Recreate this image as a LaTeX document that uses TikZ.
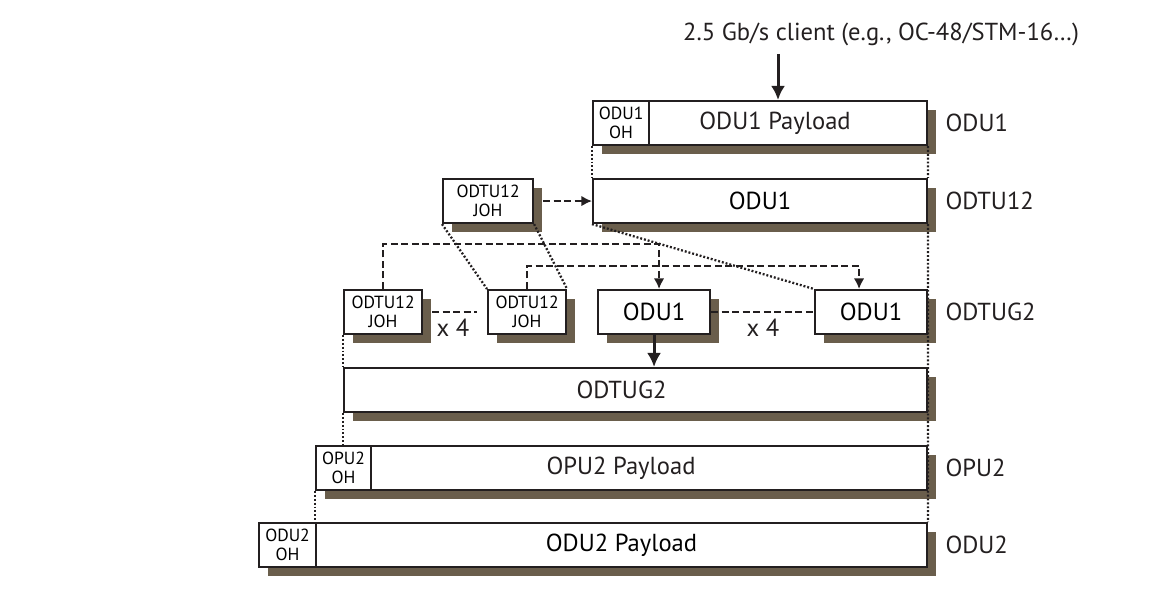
\documentclass[tikz,border=0pt]{standalone}
\usepackage{fontspec}
\setmainfont{PT Sans}
\usepackage{tikz}
\usetikzlibrary{arrows.meta,positioning,shadows}
\definecolor{shadowbrown}{RGB}{106,94,76}
\definecolor{inkblack}{RGB}{35,31,32}

\begin{document}
\begin{tikzpicture}[x=0.02cm,y=-0.02cm,>={Latex[length=6pt,width=6pt]},node distance=0.34cm,semithick]
                \tikzstyle{fieldbox}=[draw=inkblack,line width=1.2pt,fill=white,anchor=north west,inner sep=0pt,minimum height=0.88cm,font=\fontsize{14}{16}\selectfont,drop shadow={shadow xshift=0.18cm,shadow yshift=-0.18cm,fill=shadowbrown,opacity=1}]
                \tikzstyle{ohbox}=[fieldbox,align=center,font=\fontsize{10}{10.5}\selectfont]
                \tikzstyle{tag}=[inner sep=0pt,text=inkblack,font=\fontsize{14}{16}\selectfont]
                \tikzstyle{dotline}=[draw=inkblack,line width=1.3pt,dash pattern=on 1.1pt off 1.1pt]
                \tikzstyle{dashline}=[draw=inkblack,line width=1.5pt,dash pattern=on 4pt off 2pt]

                \useasboundingbox (0,0) rectangle (1152,601);

                % client signal
                \node[tag,anchor=base] (client) at (881,41) {2.5 Gb/s client (e.g., OC-48/STM-16…)};
                \coordinate (feed) at (778,54);

                % ODU1 and ODTU12
                \node[ohbox,minimum width=1.12cm] (odu1oh) at (592,100) {ODU1\\OH};
                \node[fieldbox,minimum width=5.56cm,label={[tag,xshift=-0.26cm]center:ODU1 Payload}] (odu1pl) at (648,100) {};
                \node[fieldbox,minimum width=6.68cm] (odtu12) at (592,178) {ODU1};
                \node[ohbox,minimum width=1.8cm] (johtop) at (442,178) {ODTU12\\JOH};

                % ODTUG2 members
                \node[ohbox,minimum width=1.56cm] (joha) at (343,289) {ODTU12\\JOH};
                \node[ohbox,minimum width=1.56cm] (johb) at (487,289) {ODTU12\\JOH};
                \node[fieldbox,minimum width=2.24cm] (odu1a) at (597,289) {ODU1};
                \node[fieldbox,minimum width=2.24cm] (odu1b) at (814,289) {ODU1};
                \node[tag] (timesa) at (453,328) {x 4};
                \node[tag] (timesb) at (763,328) {x 4};

                % ODTUG2, OPU2 and ODU2
                \node[fieldbox,minimum width=11.66cm,label={[tag,xshift=-0.28cm]center:ODTUG2}] (odtug2) at (343,367) {};
                \node[ohbox,minimum width=1.1cm] (opu2oh) at (315,445) {OPU2\\OH};
                \node[fieldbox,minimum width=11.12cm,label={[tag,xshift=-0.56cm]center:OPU2 Payload}] (opu2pl) at (370,445) {};
                \node[ohbox,minimum width=1.14cm] (odu2oh) at (258,522) {ODU2\\OH};
                \node[fieldbox,minimum width=12.22cm] (odu2pl) at (315,522) {ODU2 Payload};

                % layer names
                \node[tag,anchor=west] (nodu1)   [right=of odu1pl] {ODU1};
                \node[tag,anchor=west] (nodtu12) [right=of odtu12] {ODTU12};
                \node[tag,anchor=west] (nodtug2) [right=of odu1b]  {ODTUG2};
                \node[tag,anchor=west] (nopu2)   [right=of opu2pl] {OPU2};
                \node[tag,anchor=west] (nodu2)   [right=of odu2pl] {ODU2};

                \path   (odu1oh.south west) edge[dotline] (odtu12.north west)
                        (odu1pl.south east) edge[dotline] (odtu12.north east)
                        (odtu12.south east) edge[dotline] (odu2pl.north east)
                        (johtop.south west) edge[dotline] (johb.north west)
                        (johtop.south east) edge[dotline] (johb.north east)
                        (odtu12.south west) edge[dotline] (odu1b.north west)
                        (joha.south west)   edge[dotline] (odtug2.north west)
                        (odtug2.south west) edge[dotline] (odtug2.south west |- opu2oh.north)
                        (opu2oh.south west) edge[dotline] (odu2pl.north west);

                \draw[->,dashline] ([xshift=0.18cm]johtop.east) -- (odtu12.west);
                \draw[->,dashline] (joha.north) -- ++(0,-45) -| ([xshift=0.1cm]odu1a.north);
                \draw[->,dashline] (johb.north) -- ++(0,-23) -| ([xshift=-0.24cm]odu1b.north);
                \draw[dashline] ([xshift=0.18cm]joha.east) -- ([xshift=-0.2cm]johb.west);
                \draw[dashline] (odu1a.east) -- (odu1b.west);

                \draw[-{Latex[length=8pt,width=8pt]},inkblack,line width=1.7pt] (feed) -- (feed |- odu1pl.north);
                \draw[-{Latex[length=8pt,width=8pt]},inkblack,line width=1.7pt] (odu1a.south) -- (odu1a.south |- odtug2.north);
            \end{tikzpicture}
\end{document}
